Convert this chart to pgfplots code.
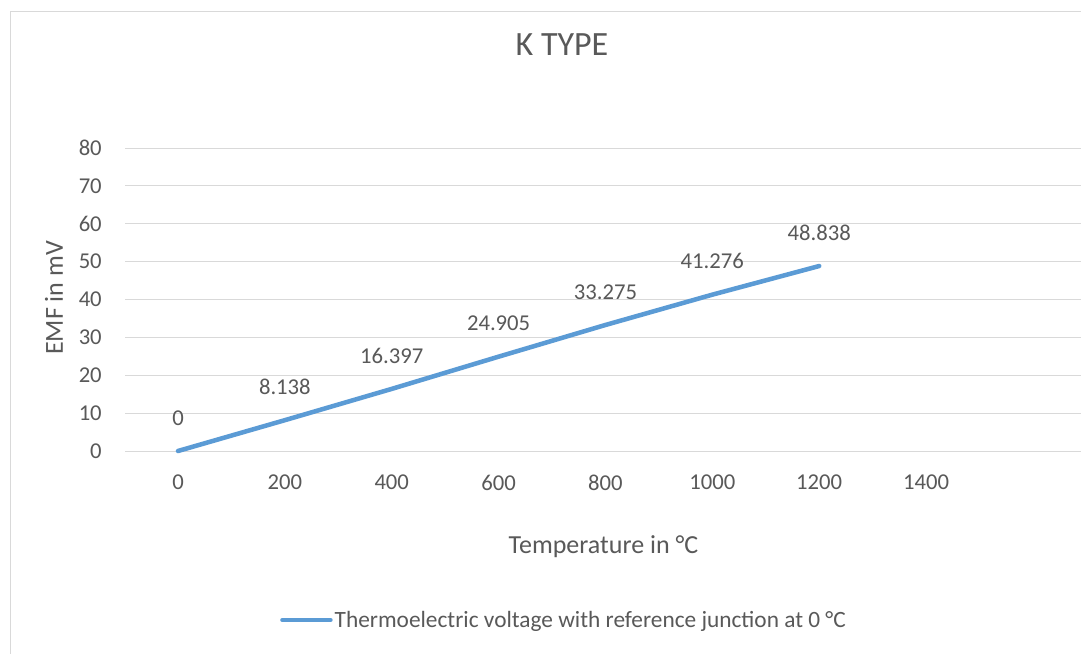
\documentclass[border=0pt]{standalone}
\usepackage{pgfplots}
\pgfplotsset{compat=1.18}
\usepackage{fontspec}
\setmainfont{Carlito}
\definecolor{txt}{HTML}{595959}
\definecolor{gridc}{HTML}{D9D9D9}
\definecolor{ser}{HTML}{5B9BD5}
\begin{document}
\begin{tikzpicture}
\useasboundingbox (0,0) rectangle (810.75pt,489.75pt);
\clip (0,0) rectangle (810.75pt,489.75pt);
\fill[white] (0,0) rectangle (810.75pt,489.75pt);
\draw[gridc, line width=0.75pt] (7.9pt,481.1pt) rectangle (900pt,-50pt);
\begin{axis}[
  at={(93.75pt,151.5pt)}, anchor=south west,
  scale only axis, width=717pt, height=227.25pt,
  xmin=-99.2, xmax=1690, ymin=0, ymax=80,
  xtick={0,200,...,1400}, ytick={0,10,...,80},
  axis line style={draw=none}, major tick length=0pt,
  ymajorgrids, grid style={gridc, line width=0.75pt},
  tick label style={text=txt, font=\fontsize{17}{20}\selectfont, inner sep=0pt},
  yticklabel style={anchor=east, xshift=-17.25pt},
  xticklabel style={anchor=north, yshift=-18pt},
  /pgf/number format/assume math mode=true,
  /pgf/number format/1000 sep={},
  scaled ticks=false,
  clip=false,
  title={K TYPE},
  title style={at={(axis description cs:0.4571,1.2795)}, anchor=base, text=txt, font=\fontsize{25.5}{30}\selectfont, inner sep=0pt},
  xlabel={Temperature in °C},
  xlabel style={at={(axis description cs:0.5005,-0.3376)}, anchor=base, text=txt, font=\fontsize{19.5}{23}\selectfont, inner sep=0pt},
  ylabel={EMF in mV},
  ylabel style={at={(axis description cs:-0.0649,0.505)}, anchor=base, text=txt, font=\fontsize{19.5}{23}\selectfont, inner sep=0pt},
  legend style={at={(axis description cs:0.4592,-0.5578)}, anchor=center, draw=none, fill=none, inner sep=0pt,
    nodes={text=txt, font=\fontsize{17.5}{21}\selectfont, inner sep=0pt, inner xsep=1.5pt}},
  legend image code/.code={\draw[ser, line width=3.4pt, line cap=round] (0pt,0pt) -- (36pt,0pt);},
  nodes near coords, point meta=explicit symbolic,
  every node near coord/.append style={text=txt, font=\fontsize{17}{20}\selectfont, inner sep=0pt, anchor=south, yshift=17.5pt},
]
\addplot[ser, line width=3.4pt, line cap=round, line join=round, mark=none] coordinates {
  (0,0) [0]
  (200,8.138) [8.138]
  (400,16.397) [16.397]
  (600,24.905) [24.905]
  (800,33.275) [33.275]
  (1000,41.276) [41.276]
  (1200,48.838) [48.838]
};
\addlegendentry{Thermoelectric voltage with reference junction at 0 °C}
\end{axis}
\end{tikzpicture}
\end{document}
